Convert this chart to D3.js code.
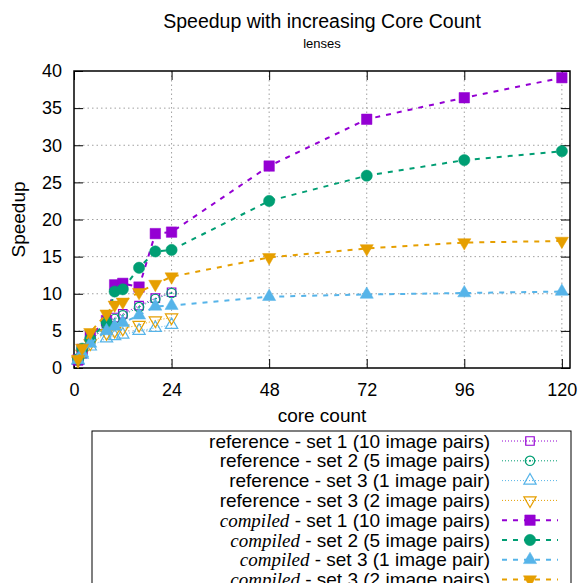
<!DOCTYPE html>
<html>
<head>
<meta charset="utf-8">
<script src="https://cdn.jsdelivr.net/npm/d3@7"></script>
<style>
  body { margin: 0; background: #fff; }
  svg { display: block; font-family: "Liberation Sans", Arial, sans-serif; }
</style>
</head>
<body>
<svg class="svg" width="579" height="583"></svg>
<script>
// core counts measured
const coresShort = [1, 2, 4, 8, 10, 12, 16, 20, 24];
const coresLong = [1, 2, 4, 8, 10, 12, 16, 20, 24, 48, 72, 96, 120];

// reference runs (only up to 24 cores)
const ref1 = [1.0, 1.9, 3.6, 6.0, 6.8, 7.3, 8.4, 9.4, 10.2];
const ref2 = [1.0, 1.9, 3.5, 5.8, 6.6, 7.1, 8.2, 9.3, 10.1];
const ref3a = [1.0, 1.8, 2.9, 4.0, 4.3, 4.5, 5.0, 5.4, 5.8];
const ref3b = [1.0, 1.9, 3.3, 4.7, 5.0, 5.3, 5.8, 6.4, 6.8];

// compiled runs
const comp1 = [1.1, 2.5, 4.4, 6.4, 11.2, 11.4, 10.9, 18.1, 18.3, 27.2, 33.5, 36.4, 39.1];
const comp2 = [1.2, 2.6, 3.9, 6.2, 10.3, 10.6, 13.5, 15.7, 15.9, 22.5, 25.9, 28.0, 29.2];
const comp3a = [1.1, 2.0, 3.3, 5.0, 5.6, 6.1, 7.1, 8.3, 8.4, 9.6, 9.9, 10.1, 10.3];
const comp3b = [1.2, 2.7, 4.8, 7.3, 8.5, 8.9, 10.2, 11.3, 12.3, 14.9, 16.1, 16.9, 17.1];

const xTicks = [0, 24, 48, 72, 96, 120];
const yTicks = [0, 5, 10, 15, 20, 25, 30, 35, 40];

const series = [
  { kind: 'reference', rest: ' - set 1 (10 image pairs)', x: coresShort, y: ref1, color: '#9400d3', shape: 'square', filled: false },
  { kind: 'reference', rest: ' - set 2 (5 image pairs)', x: coresShort, y: ref2, color: '#009e73', shape: 'circle', filled: false },
  { kind: 'reference', rest: ' - set 3 (1 image pair)', x: coresShort, y: ref3a, color: '#56b4e9', shape: 'up', filled: false },
  { kind: 'reference', rest: ' - set 3 (2 image pairs)', x: coresShort, y: ref3b, color: '#e69f00', shape: 'down', filled: false },
  { kind: 'compiled', rest: ' - set 1 (10 image pairs)', x: coresLong, y: comp1, color: '#9400d3', shape: 'square', filled: true },
  { kind: 'compiled', rest: ' - set 2 (5 image pairs)', x: coresLong, y: comp2, color: '#009e73', shape: 'circle', filled: true },
  { kind: 'compiled', rest: ' - set 3 (1 image pair)', x: coresLong, y: comp3a, color: '#56b4e9', shape: 'up', filled: true },
  { kind: 'compiled', rest: ' - set 3 (2 image pairs)', x: coresLong, y: comp3b, color: '#e69f00', shape: 'down', filled: true }
];

const svg = d3.select('.svg');

const plotLeft = 74, plotRight = 570, plotTop = 71, plotBottom = 368;
const x = d3.scaleLinear().domain([0, 122]).range([plotLeft, plotRight]);
const y = d3.scaleLinear().domain([0, 40]).range([plotBottom, plotTop]);

// grid
const grid = svg.append('g');
grid.selectAll('.gx')
  .data(xTicks.filter(d => d > 0))
  .join('line')
  .attr('x1', d => x(d)).attr('x2', d => x(d))
  .attr('y1', plotTop).attr('y2', plotBottom)
  .attr('stroke', '#a0a0a0').attr('stroke-width', 1)
  .attr('stroke-dasharray', '1.5,3');
grid.selectAll('.gy')
  .data(yTicks.filter(d => d > 0 && d < 40))
  .join('line')
  .attr('y1', d => y(d)).attr('y2', d => y(d))
  .attr('x1', plotLeft).attr('x2', plotRight)
  .attr('stroke', '#a0a0a0').attr('stroke-width', 1)
  .attr('stroke-dasharray', '1.5,3');

// axes with inward ticks
const tickLen = 9;
const xAxis = svg.append('g')
  .attr('transform', `translate(0,${plotBottom})`)
  .call(d3.axisBottom(x).tickValues(xTicks).tickSizeInner(-tickLen).tickSizeOuter(0).tickPadding(tickLen + 6));
const xAxisTop = svg.append('g')
  .attr('transform', `translate(0,${plotTop})`)
  .call(d3.axisTop(x).tickValues(xTicks).tickSizeInner(-tickLen).tickSizeOuter(0).tickFormat(''));
const yAxis = svg.append('g')
  .attr('transform', `translate(${plotLeft},0)`)
  .call(d3.axisLeft(y).tickValues(yTicks).tickSizeInner(-tickLen).tickSizeOuter(0).tickPadding(tickLen + 3));
const yAxisRight = svg.append('g')
  .attr('transform', `translate(${plotRight},0)`)
  .call(d3.axisRight(y).tickValues(yTicks).tickSizeInner(-tickLen).tickSizeOuter(0).tickFormat(''));

[xAxis, xAxisTop, yAxis, yAxisRight].forEach(a => {
  a.select('.domain').remove();
  a.selectAll('.tick line').attr('stroke', '#000').attr('stroke-width', 1);
  a.selectAll('text')
    .attr('font-family', '"Liberation Sans", Arial, sans-serif')
    .attr('font-size', 18)
    .attr('fill', '#000');
});

// frame
svg.append('rect')
  .attr('x', plotLeft).attr('y', plotTop)
  .attr('width', plotRight - plotLeft).attr('height', plotBottom - plotTop)
  .attr('fill', 'none').attr('stroke', '#000').attr('stroke-width', 1.5);

// markers
function symbolPath(shape, filled) {
  let type, size;
  if (shape === 'square') { type = d3.symbolSquare; size = filled ? 110 : 72; }
  else if (shape === 'circle') { type = d3.symbolCircle; size = filled ? 100 : 70; }
  else { type = d3.symbolTriangle; size = filled ? 75 : 65; }
  return d3.symbol().type(type).size(size)();
}

function drawMarker(g, s, px, py) {
  const m = g.append('path')
    .attr('d', symbolPath(s.shape, s.filled))
    .attr('transform', `translate(${px},${py})` + (s.shape === 'down' ? ' rotate(180)' : ''))
    .attr('fill', s.filled ? s.color : 'none')
    .attr('stroke', s.color)
    .attr('stroke-width', s.filled ? 0.5 : 1.2);
  if (!s.filled && s.shape === 'circle') {
    g.append('circle').attr('cx', px).attr('cy', py).attr('r', 1).attr('fill', s.color);
  }
  return m;
}

const line = d3.line().x(d => x(d[0])).y(d => y(d[1]));

const plot = svg.append('g');
series.forEach(s => {
  const pts = s.x.map((c, i) => [c, s.y[i]]);
  const g = plot.append('g');
  g.append('path')
    .attr('d', line(pts))
    .attr('fill', 'none')
    .attr('stroke', s.color)
    .attr('stroke-width', s.filled ? 2 : 1)
    .attr('stroke-dasharray', s.filled ? '5,6' : '1,2');
  pts.forEach(p => drawMarker(g, s, x(p[0]), y(p[1])));
});

// titles
svg.append('text')
  .attr('x', (plotLeft + plotRight) / 2).attr('y', 28)
  .attr('text-anchor', 'middle').attr('font-size', 19.5)
  .text('Speedup with increasing Core Count');
svg.append('text')
  .attr('x', (plotLeft + plotRight) / 2).attr('y', 48)
  .attr('text-anchor', 'middle').attr('font-size', 13)
  .text('lenses');
svg.append('text')
  .attr('transform', `translate(25,${(plotTop + plotBottom) / 2}) rotate(-90)`)
  .attr('text-anchor', 'middle').attr('font-size', 19)
  .text('Speedup');
svg.append('text')
  .attr('x', (plotLeft + plotRight) / 2).attr('y', 422)
  .attr('text-anchor', 'middle').attr('font-size', 19)
  .text('core count');

// legend
const legend = svg.append('g');
legend.append('rect')
  .attr('x', 92).attr('y', 431)
  .attr('width', 479).attr('height', 180)
  .attr('fill', 'none').attr('stroke', '#000').attr('stroke-width', 1);

series.forEach((s, i) => {
  const ly = 441 + i * 19.8;
  const t = legend.append('text')
    .attr('x', 490).attr('y', ly + 6.5)
    .attr('text-anchor', 'end').attr('font-size', 19);
  if (s.kind === 'compiled') {
    t.append('tspan')
      .attr('font-family', '"Liberation Serif", "Times New Roman", serif')
      .attr('font-style', 'italic')
      .text('compiled');
  } else {
    t.append('tspan').text('reference');
  }
  t.append('tspan').text(s.rest);
  legend.append('line')
    .attr('x1', 502).attr('x2', 558)
    .attr('y1', ly).attr('y2', ly)
    .attr('stroke', s.color)
    .attr('stroke-width', s.filled ? 2 : 1)
    .attr('stroke-dasharray', s.filled ? '5,6' : '1,2');
  drawMarker(legend, s, 530, ly);
});
</script>
</body>
</html>
